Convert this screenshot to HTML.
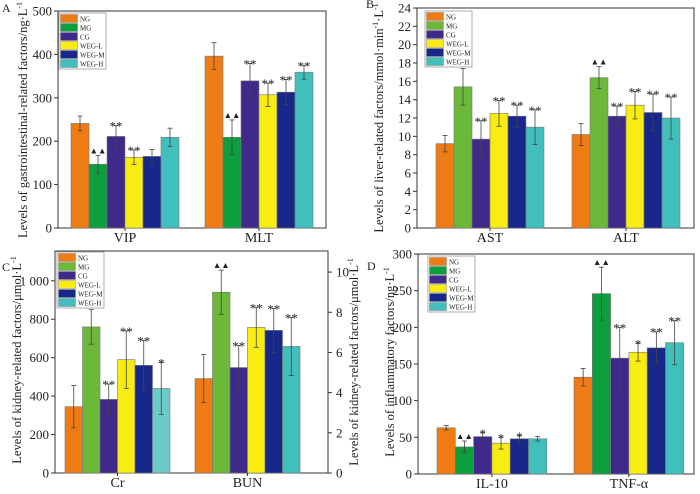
<!DOCTYPE html>
<html><head><meta charset="utf-8">
<style>
body{margin:0;background:#fff;width:700px;height:489px;overflow:hidden}
svg text{font-family:"Liberation Serif",serif;fill:#222}
</style></head>
<body>
<svg id="c" width="700" height="489" viewBox="0 0 700 489" xmlns="http://www.w3.org/2000/svg" font-family="Liberation Serif, serif"></svg>
<script>
const groups=["NG","MG","CG","WEG-L","WEG-M","WEG-H"];
const aCats=["VIP","MLT"];
const aVals=[[241,147,211,163,165,209],[396,209,339,307,313,359]];
const aErr=[[17,20,25,17,16,21],[31,40,40,27,29,16]];
const aMarks=[["","▲▲","**","**","",""],["","▲▲","**","**","**","**"]];
const bCats=["AST","ALT"];
const bVals=[[9.2,15.4,9.7,12.5,12.2,11.0],[10.2,16.4,12.2,13.4,12.6,12.0]];
const bErr=[[0.9,2,2,1.4,1.2,1.9],[1.2,1.2,1.1,1.5,2,2.3]];
const bMarks=[["","▲▲","**","**","**","**"],["","▲▲","**","**","**","**"]];
const cCats=["Cr","BUN"];
const cVals=[[345,760,383,590,560,440],[4.7,9.0,5.25,7.25,7.1,6.3]];
const cErr=[[110,90,80,150,130,135],[1.2,1.1,1.1,1.0,1.1,1.45]];
const cMarks=[["","▲▲","**","**","**","*"],["","▲▲","**","**","**","**"]];
const dCats=["IL-10","TNF-α"];
const dVals=[[63,37,51,42,48,48],[132,246,158,166,172,179]];
const dErr=[[3,8,5,8,4,3],[12,36,42,12,22,30]];
const dMarks=[["","▲▲","*","*","*",""],["","▲▲","**","*","**","**"]];

const svg=document.getElementById('c');
const NS="http://www.w3.org/2000/svg";
const SERIF="'Liberation Serif', serif";
function mk(t,a,txt){const e=document.createElementNS(NS,t);for(const k in a)e.setAttribute(k,a[k]);if(t==='text'&&!a['font-family'])e.setAttribute('font-family',SERIF);if(txt!=null)e.textContent=txt;svg.appendChild(e);return e;}

function panel(p){
  const {x0,x1,y0,y1,max,ticks,minor,cats,vals,errs,marks,colors,starts,bw,name,letter,lx,ly,title,tx,ty,fmt,rightMax,rightTicks}=p;
  const yS=v=>y1-(v/max)*(y1-y0);
  const yR=v=>y1-(v/rightMax)*(y1-y0);
  let r=mk('rect',{x:x0,y:y0,width:x1-x0,height:y1-y0,fill:'none',stroke:'#333','stroke-width':1});
  
  
  for(let v=0;v<=max+1e-9;v+=minor){
    const y=yS(v);
    mk('line',{x1:x0-4,x2:x0,y1:y,y2:y,stroke:'#333'});
    const t=mk('text',{x:x0-6,y:y+4.5,'text-anchor':'end','font-size':13},fmt?fmt(v):String(Math.round(v*100)/100));
    
    
  }
  if(rightMax){
    for(let v=0;v<=rightMax;v+=rightTicks){const y=yR(v);
      mk('line',{x1:x1,x2:x1+4,y1:y,y2:y,stroke:'#333'});
      const t=mk('text',{x:x1+8,y:y+4.5,'font-size':13},String(v));
      
      }
  }
  cats.forEach((c,ci)=>{
    const sx=starts[ci];
    vals[ci].forEach((v,gi)=>{
      const useR=rightMax&&ci===1;
      const f=useR?yR:yS;
      const x=sx+gi*bw, y=f(v);
      let col=colors[gi]; if(p.override&&p.override[ci]&&p.override[ci][gi])col=p.override[ci][gi];
      const b=mk('rect',{x:x,y:y,width:bw,height:y1-y,fill:col,stroke:'#777','stroke-width':0.6});
      
      
      const cx=x+bw/2, e=errs[ci][gi], yt=f(v+e), yb=f(v-e);
      mk('line',{x1:cx,x2:cx,y1:yt,y2:yb,stroke:'#444','stroke-width':0.8});
      mk('line',{x1:cx-2.5,x2:cx+2.5,y1:yt,y2:yt,stroke:'#444','stroke-width':0.8});
      mk('line',{x1:cx-2.5,x2:cx+2.5,y1:yb,y2:yb,stroke:'#444','stroke-width':0.8});
      const m=marks[ci][gi];
      if(m){const tri=m[0]==='▲';
        const t=mk('text',{x:cx,y:tri?yt-2:yt+5,'text-anchor':'middle','font-size':tri?8.5:13,'font-family':"'DejaVu Sans', sans-serif"},m);
        
        }
    });
    const t=mk('text',{x:sx+bw*3,y:y1+14,'text-anchor':'middle','font-size':14},c);
    
    
    mk('line',{x1:sx+bw*3,x2:sx+bw*3,y1:y1,y2:y1+3,stroke:'#333'});
  });
  const lg=mk('rect',{x:lx,y:ly,width:47,height:56,fill:'#fff',stroke:'#999','stroke-width':0.8});
  
  
  groups.forEach((g,gi)=>{
    mk('rect',{x:lx+1.5,y:ly+1.5+gi*9,width:17,height:8,fill:colors[gi],stroke:'#777','stroke-width':0.4});
    const t=mk('text',{x:lx+21,y:ly+8.5+gi*9,'font-size':7},g);
    
    
  });
  const L=mk('text',{x:letter[0],y:letter[1],'font-size':12},letter[2]);
  
  
  const T=mk('text',{x:0,y:0,'text-anchor':'middle','font-size':12.5,transform:`translate(${tx},${ty}) rotate(-90)`});
  T.innerHTML=title;
  
  
}
const cA=["#ee7b14","#0d9e3e","#3f2a8c","#f9ec13","#17288a","#41bfbc"];
const cB=["#ee7b14","#6cb93a","#3f2a8c","#f9ec13","#17288a","#41bfbc"];
panel({name:'panel-a',x0:58,x1:326,y0:11,y1:228,max:500,ticks:100,minor:100,cats:aCats,vals:aVals,errs:aErr,marks:aMarks,colors:cA,starts:[71,205],bw:18,lx:59,ly:13,letter:[2,12,'A'],title:'Levels of gastrointestinal-related factors/ng·L<tspan dy="-5" font-size="8">-1</tspan>',tx:27,ty:120});
panel({name:'panel-b',x0:417,x1:694,y0:8,y1:228,max:24,ticks:2,minor:2,cats:bCats,vals:bVals,errs:bErr,marks:bMarks,colors:cB,starts:[436,572],bw:18,lx:425,ly:11,letter:[366,8,'B'],title:'Levels of liver-related factors/mmol·min<tspan dy="-5" font-size="8">-1</tspan><tspan dy="5">·L</tspan><tspan dy="-5" font-size="8">-1</tspan>',tx:383,ty:118});
panel({name:'panel-c',x0:55,x1:328,y0:251,y1:473,max:1155,ticks:200,minor:200,cats:cCats,vals:cVals,errs:cErr,marks:cMarks,colors:cB,starts:[65,195],bw:17.5,lx:57,ly:252,letter:[2,271,'C'],title:'Levels of kidney-related factors/μmol·L<tspan dy="-5" font-size="8">-1</tspan>',tx:21,ty:360,rightMax:11.05,rightTicks:2,
 fmt:v=>v>=1000?'1 000':String(v),override:[[null,null,null,null,null,'#6ecac8']]});
panel({name:'panel-d',x0:418,x1:694,y0:254,y1:474,max:300,ticks:50,minor:50,cats:dCats,vals:dVals,errs:dErr,marks:dMarks,colors:cA,starts:[437,574],bw:18.3,lx:428,ly:256,letter:[367,270,'D'],title:'Levels of inflammatory factors/ng·L<tspan dy="-5" font-size="8">-1</tspan>',tx:394,ty:362});
const R=mk('text',{x:0,y:0,'text-anchor':'middle','font-size':12.5,transform:'translate(358,362) rotate(-90)'});
R.innerHTML='Levels of kidney-related factors/μmol·L<tspan dy="-5" font-size="8">-1</tspan>';


</script>
</body></html>
